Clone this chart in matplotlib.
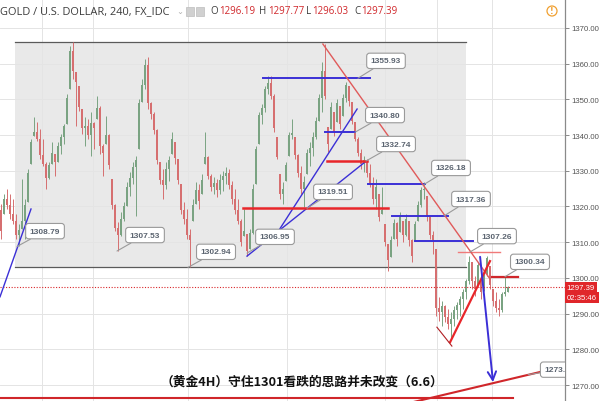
import matplotlib
matplotlib.use("Agg")
import matplotlib.pyplot as plt
from matplotlib.patches import Rectangle, Ellipse
import numpy as np

# ---------------- data (4H candles) ----------------
first_open = 1319.0
highs = [1320.7, 1323.5, 1324.9, 1323.5, 1322.1, 1317.9, 1315.1, 1327.7, 1322.1, 1330.5,
         1338.9, 1345.1, 1343.7, 1341.7, 1338.9, 1332.5, 1332.5, 1338.1, 1334.7, 1338.1,
         1340.3, 1343.1, 1351.5, 1365.0, 1366.1, 1357.7, 1353.8, 1347.3, 1345.1, 1344.5,
         1346.5, 1343.7, 1351.0, 1348.2, 1337.5, 1345.4, 1340.3, 1327.7, 1320.7, 1315.7,
         1318.5, 1321.3, 1326.9, 1329.7, 1332.5, 1334.1, 1350.1, 1355.7, 1361.3, 1361.9,
         1349.3, 1346.5, 1341.7, 1332.5, 1330.5, 1332.5, 1334.1, 1340.9, 1338.1, 1333.3,
         1326.3, 1321.3, 1319.3, 1313.7, 1322.1, 1326.9, 1326.3, 1329.1, 1340.9, 1334.1,
         1329.1, 1328.3, 1327.7, 1329.1, 1329.9, 1331.1, 1330.5, 1327.1, 1324.9, 1322.1,
         1316.5, 1319.3, 1312.3, 1313.7, 1326.3, 1337.0, 1346.5, 1348.7, 1353.8, 1356.6,
         1356.6, 1351.5, 1339.5, 1329.1, 1326.9, 1332.5, 1340.9, 1344.5, 1339.5, 1334.7,
         1331.3, 1328.5, 1336.1, 1338.1, 1340.9, 1345.1, 1351.5, 1360.5, 1365.5, 1342.3,
         1349.3, 1346.5, 1350.1, 1348.2, 1351.5, 1354.9, 1353.8, 1349.3, 1343.7, 1339.5,
         1336.1, 1334.1, 1333.3, 1331.9, 1328.3, 1327.7, 1323.5, 1325.5, 1315.1, 1309.5,
         1311.7, 1316.5, 1315.7, 1318.5, 1315.9, 1317.9, 1315.9, 1310.9, 1315.9, 1321.5,
         1325.5, 1326.9, 1322.9, 1317.1, 1313.1, 1308.1, 1294.7, 1293.5, 1292.4, 1291.3,
         1290.4, 1292.1, 1293.3, 1294.9, 1296.9, 1299.7, 1306.1, 1304.5, 1300.5, 1304.5,
         1299.7, 1301.7, 1306.1, 1303.3, 1296.9, 1296.1, 1294.1, 1296.1, 1300.5, 1297.77]
lows = [1310.9, 1317.9, 1319.3, 1316.5, 1315.1, 1310.9, 1308.9, 1313.7, 1310.9, 1321.3,
        1331.9, 1339.7, 1338.3, 1333.3, 1331.3, 1324.9, 1327.7, 1331.9, 1328.5, 1332.5,
        1334.7, 1337.5, 1343.1, 1352.9, 1355.7, 1342.5, 1346.8, 1340.3, 1337.0, 1338.9,
        1334.1, 1336.1, 1344.5, 1334.7, 1328.5, 1337.5, 1330.5, 1319.3, 1313.1, 1307.5,
        1311.7, 1315.9, 1320.1, 1322.9, 1326.3, 1317.3, 1336.1, 1349.3, 1352.9, 1347.3,
        1344.5, 1340.3, 1331.9, 1326.3, 1322.1, 1324.9, 1327.1, 1334.7, 1331.9, 1326.3,
        1317.9, 1315.1, 1310.9, 1302.94, 1315.9, 1320.7, 1319.3, 1323.5, 1331.9, 1327.7,
        1324.3, 1323.5, 1322.7, 1323.5, 1324.3, 1326.3, 1324.9, 1320.7, 1317.9, 1315.1,
        1308.9, 1311.7, 1306.1, 1308.1, 1312.3, 1326.3, 1337.5, 1343.1, 1346.5, 1351.5,
        1350.1, 1340.9, 1333.3, 1322.1, 1320.7, 1327.1, 1334.1, 1338.9, 1333.3, 1328.3,
        1323.5, 1319.9, 1329.1, 1331.3, 1334.1, 1338.9, 1344.0, 1346.5, 1350.1, 1335.3,
        1341.7, 1339.7, 1343.7, 1341.7, 1345.4, 1349.3, 1348.2, 1343.1, 1338.3, 1334.1,
        1330.5, 1329.7, 1328.3, 1325.5, 1320.7, 1319.3, 1315.9, 1317.9, 1308.9, 1301.9,
        1305.9, 1310.9, 1308.9, 1312.9, 1310.1, 1311.7, 1308.9, 1304.5, 1310.3, 1315.9,
        1319.9, 1322.1, 1315.9, 1310.9, 1306.7, 1289.3, 1287.9, 1286.5, 1287.6, 1285.7,
        1282.9, 1286.5, 1288.5, 1289.3, 1291.3, 1294.1, 1298.3, 1296.9, 1294.9, 1297.7,
        1294.1, 1296.3, 1300.5, 1296.9, 1292.1, 1290.4, 1289.3, 1290.4, 1294.9, 1296.03]
closes = [1313.0, 1322.0, 1320.5, 1318.0, 1316.0, 1312.0, 1313.5, 1316.0, 1320.5, 1329.5,
          1338.0, 1341.0, 1339.0, 1334.5, 1332.0, 1328.0, 1331.5, 1335.0, 1332.5, 1337.0,
          1339.5, 1342.5, 1350.5, 1363.5, 1358.0, 1355.0, 1348.0, 1342.0, 1342.5, 1340.0,
          1343.5, 1342.0, 1347.5, 1337.0, 1335.0, 1340.0, 1331.5, 1320.5, 1314.0, 1312.0,
          1316.5, 1320.0, 1325.5, 1328.0, 1331.0, 1333.0, 1349.0, 1354.0, 1359.5, 1349.0,
          1346.0, 1341.5, 1333.0, 1327.5, 1326.0, 1330.5, 1333.0, 1339.0, 1333.5, 1327.5,
          1319.0, 1316.5, 1312.0, 1310.5, 1320.5, 1324.5, 1321.5, 1327.5, 1334.0, 1328.5,
          1325.5, 1326.5, 1324.5, 1327.5, 1328.5, 1329.5, 1326.0, 1322.0, 1319.0, 1316.0,
          1310.0, 1313.0, 1307.5, 1312.5, 1325.0, 1336.0, 1345.5, 1347.5, 1353.0, 1354.5,
          1351.0, 1342.0, 1334.0, 1323.5, 1325.0, 1331.5, 1340.0, 1340.5, 1334.5, 1329.5,
          1325.0, 1327.0, 1335.0, 1336.5, 1339.5, 1344.0, 1350.5, 1358.0, 1351.0, 1337.5,
          1348.0, 1341.0, 1349.0, 1343.0, 1350.5, 1354.0, 1349.5, 1344.0, 1339.0, 1335.0,
          1332.0, 1333.0, 1329.5, 1326.5, 1322.0, 1325.5, 1317.0, 1319.0, 1310.0, 1305.0,
          1310.5, 1315.5, 1311.0, 1317.0, 1312.0, 1316.5, 1310.5, 1306.0, 1315.0, 1320.5,
          1324.5, 1325.0, 1317.0, 1312.0, 1310.5, 1291.5, 1290.5, 1292.0, 1289.0, 1287.0,
          1288.5, 1291.0, 1292.5, 1294.0, 1296.0, 1299.0, 1304.5, 1299.0, 1297.0, 1303.5,
          1296.0, 1301.0, 1305.5, 1298.0, 1293.5, 1291.5, 1291.0, 1295.5, 1296.19, 1297.39]

price_ticks = [1270, 1280, 1290, 1300, 1310, 1320, 1330, 1340, 1350, 1360, 1370]
last_ohlc = [1296.19, 1297.77, 1296.03, 1297.39]
countdown = "02:35:46"
title = "GOLD / U.S. DOLLAR, 240, FX_IDC"
caption = "（黄金4H）守住1301看跌的思路并未改变（6.6）"

# range box (bar index span, price span)
box_bars = [4.67, 155.0]
box_prices = [1303.1, 1366.1]

# drawn levels: (bar start, bar end, price)
purple_levels = [(87.3, 123.0, 1355.93), (108.0, 118.0, 1340.80), (122.3, 141.3, 1326.18),
                 (130.3, 149.0, 1317.36), (138.0, 157.3, 1310.3)]
red_levels = [(80.7, 129.0, 1319.51, 1.8, "#e8262a"), (108.7, 122.0, 1332.74, 1.8, "#e8262a"),
              (152.3, 166.3, 1307.26, 1.0, "#f07a7a"), (163.7, 172.3, 1300.34, 1.6, "#d0262a")]
# trend lines: ((bar, price), (bar, price))
purple_trends = [((-0.33, 1294.7), (10.0, 1319.3)), ((82.0, 1306.1), (121.7, 1332.7)),
                 ((92.3, 1312.9), (118.7, 1347.3))]
red_trends = [((107.3, 1365.5), (163.0, 1299.7), 1.0, "#e05a5a"),
              ((149.7, 1282.0), (163.0, 1304.7), 1.6, "#e8262a"),
              ((145.3, 1286.2), (150.3, 1280.9), 0.8, "#b01e22"),
              ((136.3, 1265.0), (188.0, 1275.3), 1.5, "#d0262a"),
              ((-0.33, 1266.3), (170.7, 1266.3), 1.5, "#d0262a")]
arrow_from = (159.7, 1305.9)
arrow_to = (164.0, 1270.8)

# callouts: value, anchor bar, anchor price, text bar, text price
callouts = [(1308.79, 5.33, 1308.79, 14.67, 1313.1), (1307.53, 38.67, 1307.53, 48.0, 1312.0),
            (1302.94, 62.33, 1302.94, 71.67, 1307.3), (1306.95, 82.0, 1306.95, 91.33, 1311.5),
            (1319.51, 102.0, 1319.51, 110.67, 1324.1), (1355.93, 119.0, 1355.93, 128.33, 1360.8),
            (1340.80, 118.0, 1340.80, 128.0, 1345.6), (1332.74, 121.67, 1332.74, 131.67, 1337.5),
            (1326.18, 141.0, 1326.18, 150.0, 1330.8), (1317.36, 147.67, 1317.36, 156.67, 1322.1),
            (1307.26, 156.33, 1307.26, 165.33, 1311.7), (1300.34, 168.0, 1300.34, 176.33, 1304.5),
            (1273.00, 175.67, 1272.9, 186.3, 1274.3)]
vgrid_bars = [13.67, 30.67, 62.33, 95.33, 128.0, 145.33, 163.67]

# ---------------- figure ----------------
W, H = 600, 402
fig = plt.figure(figsize=(6, 4.02), dpi=100)
fig.patch.set_facecolor("white")
ax = fig.add_axes([0, 0, 565 / W, 1])
ax.set_xlim(-1 / 3, 188)
ax.set_ylim(1265.52, 1378.12)
ax.set_facecolor("white")

for s in ["top", "left", "bottom"]:
    ax.spines[s].set_visible(False)
ax.spines["right"].set_color("#8a8a8a")
ax.spines["right"].set_linewidth(0.9)
ax.set_xticks([])
ax.yaxis.tick_right()
ax.set_yticks(price_ticks)
ax.set_yticklabels([f"{t:.2f}" for t in price_ticks])
ax.tick_params(axis="y", length=3, width=0.7, color="#8a8a8a", pad=1.5,
               labelsize=5.6, labelcolor="#555555")
for lab in ax.get_yticklabels():
    lab.set_family("Liberation Sans")

# grid
for t in price_ticks:
    ax.axhline(t, color="#e4e4e4", lw=0.7, zorder=0.8)
for b in vgrid_bars:
    ax.axvline(b, color="#e4e4e4", lw=0.7, zorder=0.8)

# range box
ax.add_patch(Rectangle((box_bars[0], box_prices[0]), box_bars[1] - box_bars[0],
                       box_prices[1] - box_prices[0], facecolor="#e9e9e9",
                       edgecolor="none", zorder=0.5))
for p in box_prices:
    ax.plot(box_bars, [p, p], color="#5a5a5a", lw=0.9, zorder=1)

# candles
n = len(closes)
x = np.arange(n)
hi = np.array(highs)
lo = np.array(lows)
c = np.array(closes)
o = np.clip(np.array([first_open] + closes[:-1]), lo, hi)
up = c >= o
col = np.where(up, "#7aa382", "#d66f70")
ax.vlines(x, lo, hi, colors=col, lw=0.7, zorder=2)
body_h = np.maximum(np.abs(c - o), 0.25)
ax.bar(x, body_h, bottom=np.minimum(o, c), width=0.5, color=col, zorder=2.1, linewidth=0)

# current price line
ax.axhline(last_ohlc[3], color="#d9262a", lw=0.8, ls=(0, (1, 1.5)), zorder=2.5)

# drawn objects
for b0, b1, p in purple_levels:
    ax.plot([b0, b1], [p, p], color="#3b2fd6", lw=1.4, zorder=3)
for (a, b) in purple_trends:
    ax.plot([a[0], b[0]], [a[1], b[1]], color="#3b2fd6", lw=1.0, zorder=3)
for b0, b1, p, lw, cc in red_levels:
    ax.plot([b0, b1], [p, p], color=cc, lw=lw, zorder=3)
for a, b, lw, cc in red_trends:
    ax.plot([a[0], b[0]], [a[1], b[1]], color=cc, lw=lw, zorder=3)
ax.annotate("", xy=arrow_to, xytext=arrow_from,
            arrowprops=dict(arrowstyle="->,head_length=0.6,head_width=0.3",
                            color="#3b2fd6", lw=1.4, shrinkA=0, shrinkB=0), zorder=3.5)

for v, ab, ap, tb, tp in callouts:
    ax.annotate(f"{v:.2f}", xy=(ab, ap), xytext=(tb, tp),
                ha="center", va="center", fontsize=6, fontweight="bold",
                family="Liberation Sans", color="#5b6470",
                bbox=dict(boxstyle="round,pad=0.5,rounding_size=0.35",
                          fc="white", ec="#9a9a9a", lw=0.8),
                arrowprops=dict(arrowstyle="-", color="#9a9a9a", lw=0.8,
                                shrinkA=0, shrinkB=0),
                zorder=4, annotation_clip=False, clip_on=True)

# current price tags on the axis
tr = ax.get_yaxis_transform()
ax.text(1.003, last_ohlc[3], f"{last_ohlc[3]:.2f}", transform=tr, ha="left", va="center",
        fontsize=5.6, color="white", family="Liberation Sans", clip_on=False, zorder=6,
        bbox=dict(boxstyle="square,pad=0.25", fc="#e0262a", ec="none"))
ax.text(1.003, last_ohlc[3] - 2.9, countdown, transform=tr, ha="left", va="center",
        fontsize=5.6, color="white", family="Liberation Sans", clip_on=False, zorder=6,
        bbox=dict(boxstyle="square,pad=0.25", fc="#e0262a", ec="none"))

# header legend
def fx(px):
    return px / W

def fy(py):
    return 1 - py / H

fig.text(fx(0), fy(12), title, fontsize=7.9, family="Open Sans", color="#3c3c3c",
         va="center", ha="left")
fig.text(fx(176), fy(12), "⌄", fontsize=6, color="#b0b0b0", va="center", ha="left")
for px0 in (186, 196):
    fig.add_artist(Rectangle((fx(px0), fy(17)), 8 / W, 9 / H, transform=fig.transFigure,
                             fc="#d0d0d0", ec="#bdbdbd", lw=0.5))
labels = [("O", 210, 219), ("H", 259.5, 268), ("L", 306, 312), ("C", 354, 361.5)]
for (k, px0, px1), v in zip(labels, last_ohlc):
    fig.text(fx(px0), fy(12), k, fontsize=7, family="Open Sans", color="#3c3c3c",
             va="center", ha="left")
    fig.text(fx(px1), fy(12), f"{v:.2f}", fontsize=7, family="Open Sans",
             color="#d0262a", va="center", ha="left")
fig.add_artist(Ellipse((fx(552), fy(12)), 10 / W, 10 / H, transform=fig.transFigure,
                       fc="none", ec="#f0a030", lw=0.9))
fig.text(fx(552), fy(12), "!", fontsize=5.5, color="#f0a030", va="center", ha="center",
         fontweight="bold")

# caption
fig.text(fx(302), fy(382), caption, fontsize=9.2, fontweight="bold",
         family=["Noto Sans CJK SC", "DejaVu Sans"], color="#111111",
         ha="center", va="center")

fig.savefig("out.png", dpi=100, facecolor="white")
